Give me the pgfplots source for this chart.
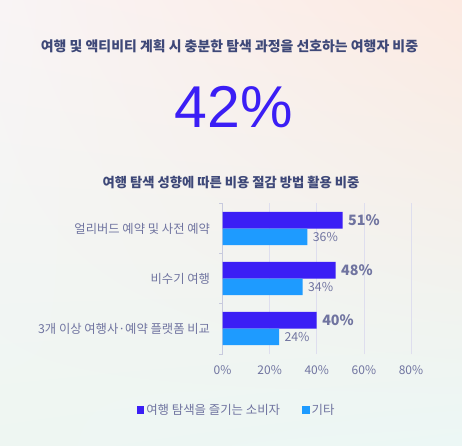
\documentclass[border=0pt]{standalone}
\usepackage{fontspec}
\setmainfont{Noto Sans CJK KR}
\newfontfamily\numfont{Liberation Sans}
\usepackage{pgfplots}
\pgfplotsset{compat=1.18}
\usetikzlibrary{shadings}
\definecolor{darkbar}{RGB}{59,30,245}
\definecolor{lightbar}{RGB}{30,155,255}
\definecolor{labelc}{RGB}{112,116,160}
\definecolor{titlec}{RGB}{62,72,120}
\definecolor{gridc}{RGB}{222,222,238}
\definecolor{axisc}{RGB}{200,202,222}
\definecolor{bgUL}{RGB}{249,244,245}
\definecolor{bgUR}{RGB}{252,234,226}
\definecolor{bgLL}{RGB}{238,246,242}
\definecolor{bgLR}{RGB}{236,247,245}
\begin{document}
\begin{tikzpicture}[x=1pt,y=1pt]
\useasboundingbox (0,0) rectangle (462,445);
\shade[upper left=bgUL, upper right=bgUR, lower left=bgLL, lower right=bgLR] (0,0) rectangle (462,445);
\node[font=\fontsize{13.9}{16}\selectfont\bfseries, text=titlec] at (229.5,398.5) {여행 및 액티비티 계획 시 충분한 탐색 과정을 선호하는 여행자 비중};
\node[font=\numfont\fontsize{59}{66}\selectfont, text=darkbar, anchor=base, inner sep=0pt] at (233.5,317.5) {42\%};
\node[font=\fontsize{13.3}{15}\selectfont\bfseries, text=titlec] at (231,263) {여행 탐색 성향에 따른 비용 절감 방법 활용 비중};
\begin{axis}[
  at={(222.5pt,91pt)}, anchor=south west,
  scale only axis, width=188.5pt, height=151pt,
  xmin=0, xmax=80, ymin=-0.51, ymax=2.51,
  xbar, bar width=16.6pt,
  ytick={0,1,2},
  yticklabels={3개 이상 여행사·예약 플랫폼 비교, 비수기 여행, 얼리버드 예약 및 사전 예약},
  xtick={0,20,40,60,80},
  xticklabel={\pgfmathprintnumber{\tick}\%},
  /pgf/number format/assume math mode=true,
  major tick length=0pt,
  axis line style={draw=none},
  xmajorgrids, grid style={color=gridc, line width=0.6pt},
  tick label style={font=\fontsize{12}{14}\selectfont, text=labelc},
  yticklabel style={xshift=-9pt, font=\fontsize{12.3}{14}\selectfont},
  xticklabel style={yshift=-8pt},
  clip=false,
  legend columns=2,
  legend style={at={(0.075,-0.371)}, anchor=center, draw=none, fill=none,
    font=\fontsize{12.4}{14}\selectfont, text=labelc,
    /tikz/every even column/.append style={column sep=20pt}},
  legend image code/.code={\fill[#1] (0pt,-3.8pt) rectangle (7.6pt,3.8pt);},
  nodes near coords={\pgfmathprintnumber{\pgfplotspointmeta}\%},
  nodes near coords align={horizontal},
]
\draw[axisc, line width=0.7pt] (axis cs:0,-0.51) -- (axis cs:0,2.51);
\draw[axisc, line width=0.7pt] (axis cs:0,-0.51) -- ([xshift=-4pt]axis cs:0,-0.51);
\draw[axisc, line width=0.7pt] (axis cs:0,0.5) -- ([xshift=-4pt]axis cs:0,0.5);
\draw[axisc, line width=0.7pt] (axis cs:0,1.5) -- ([xshift=-4pt]axis cs:0,1.5);
\draw[axisc, line width=0.7pt] (axis cs:0,2.51) -- ([xshift=-4pt]axis cs:0,2.51);
\addplot[draw=none, fill=darkbar, bar shift=8.3pt,
  every node near coord/.append style={font=\fontsize{14.3}{16}\selectfont\bfseries, text=labelc, xshift=2pt}]
  coordinates {(40,0) (48,1) (51,2)};
\addplot[draw=none, fill=lightbar, bar shift=-8.3pt,
  every node near coord/.append style={font=\fontsize{12.3}{14}\selectfont, text=labelc, xshift=2pt}]
  coordinates {(24,0) (34,1) (36,2)};
\legend{여행 탐색을 즐기는 소비자, 기타}
\end{axis}
\end{tikzpicture}
\end{document}
